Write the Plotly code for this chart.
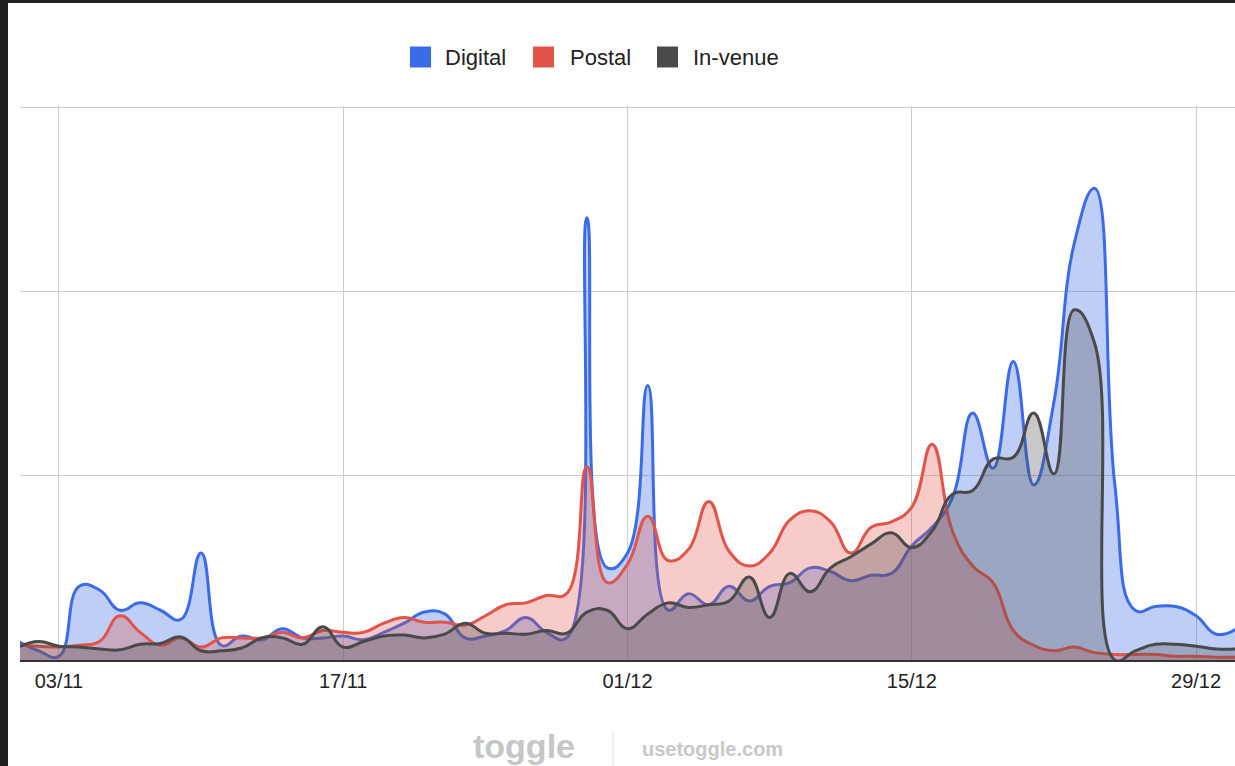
import pandas as pd
import plotly.graph_objects as go

# Daily channel volumes, 1 Nov - 31 Dec
dates = pd.date_range("2023-11-01", periods=61, freq="D")

digital = [10, 5, 2, 40, 38, 27, 31, 27, 22, 58,
           8, 13, 11, 17, 12, 12, 13, 11, 15, 20,
           26, 25, 12, 13, 16, 23, 15, 12, 240, 50,
           58, 149, 27, 36, 30, 40, 32, 40, 42, 50,
           48, 43, 46, 47, 62, 72, 88, 134, 104, 162,
           95, 140, 226, 256, 95, 27, 29, 29, 24, 14,
           17]

postal = [8, 7.5, 7, 8, 10, 24, 15, 8, 12, 7,
          12, 12, 12, 15, 12, 16, 15, 15, 20, 23,
          20.5, 20.5, 19, 24, 30, 31, 35, 36, 105, 42,
          52, 78, 54, 60, 86, 59, 51, 58, 76, 81,
          75, 58, 72, 75, 83, 117, 70, 51, 42, 16,
          8, 5, 7, 4, 3, 3, 3, 2, 2, 1.5,
          1.5]

in_venue = [7, 10, 7.5, 7, 6, 5.5, 8.5, 9, 12.5, 5,
            5, 6.5, 12, 12, 8.5, 18, 7, 10, 13, 13.5,
            12, 14, 20, 14.5, 14.5, 14, 16, 14.5, 26, 27,
            17, 25, 31, 28.5, 30, 32, 45, 23, 47, 37,
            50, 56, 63, 69, 61, 70, 90, 92, 109, 110,
            134, 101, 190, 172, 0, 5, 8.5, 8.5, 7.5, 6,
            6]

tick_dates = ["2023-11-03", "2023-11-17", "2023-12-01", "2023-12-15", "2023-12-29"]
tick_labels = ["03/11", "17/11", "01/12", "15/12", "29/12"]

series_names = ["Digital", "Postal", "In-venue"]
series_values = [digital, postal, in_venue]
line_colors = ["#3a6be8", "#e0544a", "#4a4a4a"]
fill_colors = ["rgba(58,107,232,0.33)", "rgba(224,84,74,0.30)", "rgba(74,74,74,0.30)"]

fig = go.Figure()
for name, vals, line_col, fill_col in zip(series_names, series_values, line_colors, fill_colors):
    fig.add_trace(go.Scatter(
        x=dates, y=vals, name=name, mode="lines",
        line=dict(color=line_col, width=3, shape="spline", smoothing=1.3),
        fill="tozeroy", fillcolor=fill_col,
        showlegend=False, hoverinfo="skip",
    ))

x_start = dates[0] + pd.Timedelta(hours=2)
x_end = dates[-1] - pd.Timedelta(hours=2)

PLOT_LEFT, PLOT_W, PLOT_BOTTOM, PLOT_H = 20, 1215, 660, 554


def px_x(px):
    return (px - PLOT_LEFT) / PLOT_W


def px_y(py):
    return (PLOT_BOTTOM - py) / PLOT_H


# legend: colour swatch followed by its label, in one row above the plot
shapes = []
annotations = []
swatch_left = [410, 533, 657]
label_left = [445, 570, 693]
for name, col, sx, lx in zip(series_names, line_colors, swatch_left, label_left):
    shapes.append(dict(type="rect", xref="paper", yref="paper",
                       x0=px_x(sx), x1=px_x(sx + 21), y0=px_y(67.5), y1=px_y(46.5),
                       fillcolor=col, line_width=0, layer="above"))
    annotations.append(dict(text=name, xref="paper", yref="paper",
                            x=px_x(lx - 2), y=px_y(57), xanchor="left", yanchor="middle",
                            showarrow=False, font=dict(size=22, color="#222222")))

# dark frame edges
shapes.append(dict(type="rect", xref="paper", yref="paper", x0=px_x(0), x1=px_x(8),
                   y0=px_y(780), y1=px_y(-10), fillcolor="#202020", line_width=0, layer="above"))
shapes.append(dict(type="rect", xref="paper", yref="paper", x0=px_x(0), x1=px_x(1240),
                   y0=px_y(3), y1=px_y(-10), fillcolor="#202020", line_width=0, layer="above"))
# watermark divider
shapes.append(dict(type="line", xref="paper", yref="paper", x0=px_x(613), x1=px_x(613),
                   y0=px_y(730), y1=px_y(770), line=dict(color="#e2e2e2", width=1)))

annotations += [
    dict(text="<b>toggle</b>", xref="paper", yref="paper", x=px_x(524), y=px_y(746),
         xanchor="center", yanchor="middle", showarrow=False,
         font=dict(size=34, color="#c6c6c6")),
    dict(text="<b>usetoggle.com</b>", xref="paper", yref="paper", x=px_x(712.5), y=px_y(749),
         xanchor="center", yanchor="middle", showarrow=False,
         font=dict(size=20, color="#c8c8c8")),
]

fig.update_layout(
    width=1235, height=766,
    margin=dict(l=20, r=0, t=106, b=106),
    paper_bgcolor="white", plot_bgcolor="white",
    font=dict(family="Liberation Sans, Arial, sans-serif", color="#222222"),
    showlegend=False,
    xaxis=dict(
        type="date", range=[x_start, x_end],
        tickvals=pd.to_datetime(tick_dates), ticktext=tick_labels,
        showgrid=True, gridcolor="#cccccc", gridwidth=1,
        showline=True, linecolor="#333333", linewidth=2,
        ticks="", tickfont=dict(size=20, color="#222222"), ticklabelstandoff=2,
        zeroline=False, fixedrange=True,
    ),
    yaxis=dict(
        range=[0, 300.6], tickvals=[0, 100, 200, 300],
        showticklabels=False, showgrid=True, gridcolor="#cccccc", gridwidth=1,
        zeroline=False, ticks="", fixedrange=True,
    ),
    shapes=shapes,
    annotations=annotations,
)

fig.write_html("out.html")
